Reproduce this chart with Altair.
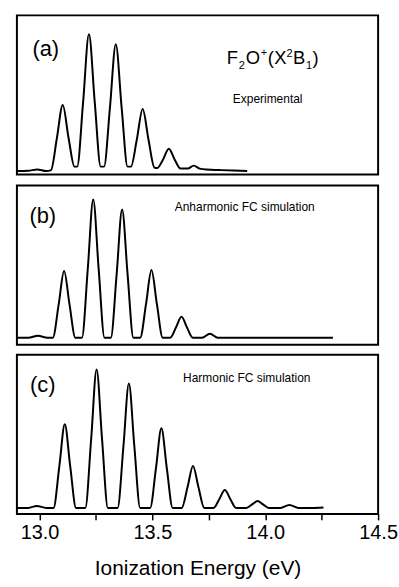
import altair as alt
import pandas as pd

# ---------------- data ----------------
# Panel (a): experimental spectrum, curve vertices (eV, arb. intensity)
A_X = [12.90, 12.95, 12.99, 13.03, 13.051,
       13.077, 13.103, 13.129, 13.155,
       13.167, 13.193, 13.219, 13.245, 13.271,
       13.286, 13.312, 13.338, 13.364, 13.390,
       13.405, 13.431, 13.457, 13.483, 13.509,
       13.521, 13.547, 13.573, 13.599, 13.625,
       13.657, 13.683, 13.709, 13.74, 13.80, 13.86, 13.92]
A_Y = [0.5, 0.8, 2.2, 0.5, 1.5,
       33.5, 67, 33.5, 5,
       5, 69, 138, 69, 5,
       5, 64, 128, 64, 5,
       5, 32, 63, 32, 4,
       3.5, 12, 23, 12, 3,
       3, 6, 3, 2, 1.5, 1, 0.5]

# Panel (b): anharmonic FC simulation
B_X = [12.90, 12.95, 12.993, 13.035, 13.059,
       13.085, 13.109, 13.133, 13.159,
       13.188, 13.214, 13.238, 13.262, 13.288,
       13.316, 13.342, 13.366, 13.390, 13.416,
       13.446, 13.472, 13.496, 13.520, 13.546,
       13.579, 13.605, 13.629, 13.653, 13.679,
       13.72, 13.755, 13.79, 13.85, 14.0, 14.15, 14.30]
B_Y = [0, 0, 2, 0, 0,
       33.5, 67, 33.5, 0,
       0, 69.5, 139, 69.5, 0,
       0, 64.5, 129, 64.5, 0,
       0, 34, 68, 34, 0,
       0, 10.5, 21, 10.5, 0,
       0, 4, 0, 0, 0, 0, 0]

# Panel (c): harmonic FC simulation
C_X = [12.90, 12.95, 12.988, 13.03, 13.062,
       13.088, 13.112, 13.136, 13.162,
       13.203, 13.229, 13.253, 13.277, 13.303,
       13.346, 13.372, 13.396, 13.420, 13.446,
       13.490, 13.516, 13.540, 13.564, 13.590,
       13.630, 13.656, 13.680, 13.704, 13.730,
       13.771, 13.797, 13.821, 13.845, 13.871,
       13.916, 13.942, 13.966, 13.990, 14.016,
       14.067, 14.107, 14.147, 14.20, 14.258]
C_Y = [0, 0, 2, 0, 0,
       42, 84, 42, 0,
       0, 69.5, 139, 69.5, 0,
       0, 62.5, 125, 62.5, 0,
       0, 40, 80, 40, 0,
       0, 21, 42, 21, 0,
       0, 9, 18, 9, 0,
       0, 3.5, 7, 3.5, 0,
       0, 3, 0, 0, 0.5]

X_TICKS = [13.0, 13.25, 13.5, 13.75, 14.0, 14.25, 14.5]
PANEL_LABELS = ["(a)", "(b)", "(c)"]
PANEL_NOTES = ["Experimental", "Anharmonic FC simulation", "Harmonic FC simulation"]

# ---------------- layout ----------------
W, H = 363, 160
XDOM = [12.9, 14.5]
FONT = "Liberation Sans"


def txt(s, x, y, size, align="center", baseline="middle"):
    return alt.Chart(pd.DataFrame({"t": [s]})).mark_text(
        font=FONT, fontSize=size, color="black", align=align, baseline=baseline
    ).encode(x=alt.value(x), y=alt.value(y), text="t:N")


def panel(xs, ys, ydom, texts, bottom=False):
    df = pd.DataFrame({"x": xs, "y": ys})
    if bottom:
        xaxis = alt.Axis(
            values=X_TICKS,
            labelExpr="(datum.value * 2) % 1 == 0 ? format(datum.value, '.1f') : ''",
            domain=False, grid=False,
            tickSize=6, tickWidth=1.5, tickColor="black",
            labelFont=FONT, labelFontSize=20, labelColor="black",
            labelPadding=3, labelFlush=False,
            title="Ionization Energy (eV)", titleFont=FONT, titleFontSize=21,
            titleFontWeight="normal", titleColor="black", titlePadding=15,
        )
    else:
        xaxis = None
    line = alt.Chart(df).mark_line(
        interpolate="monotone", color="black", strokeWidth=2
    ).encode(
        x=alt.X("x:Q", scale=alt.Scale(domain=XDOM, nice=False, zero=False), axis=xaxis),
        y=alt.Y("y:Q", scale=alt.Scale(domain=ydom, nice=False, zero=False), axis=None),
    )
    return alt.layer(line, *texts).properties(width=W, height=H)


# panel (a) texts incl. F2O+(X2B1) built from pieces
formula = [
    ("F", 211, 49, 18.5), ("2", 223, 54, 11), ("O", 230, 49, 18.5), ("+", 245, 41, 11),
    ("(", 252, 49, 18.5), ("X", 258.5, 49, 18.5), ("2", 271, 42, 11), ("B", 277.5, 49, 18.5),
    ("1", 290.5, 54, 11), (")", 297, 49, 18.5),
]
a_texts = [txt(PANEL_LABELS[0], 29, 34, 22), txt(PANEL_NOTES[0], 252, 84, 12)]
a_texts += [txt(s, x, y, sz, align="left", baseline="alphabetic") for s, x, y, sz in formula]

b_texts = [txt(PANEL_LABELS[1], 26, 31, 22), txt(PANEL_NOTES[1], 229, 22, 12)]
c_texts = [txt(PANEL_LABELS[2], 26, 31, 22), txt(PANEL_NOTES[2], 231, 23, 12)]

pa = panel(A_X, A_Y, [-3, 157], a_texts)
pb = panel(B_X, B_Y, [-7, 153], b_texts)
pc = panel(C_X, C_Y, [-6, 154], c_texts, bottom=True)

chart = alt.vconcat(pa, pb, pc, spacing=8).properties(
    padding={"left": 12, "top": 13, "right": 0, "bottom": 0},
    background="white",
).configure_view(stroke="black", strokeWidth=2)

chart.save("out.html", embed_options={"renderer": "svg", "actions": False})
